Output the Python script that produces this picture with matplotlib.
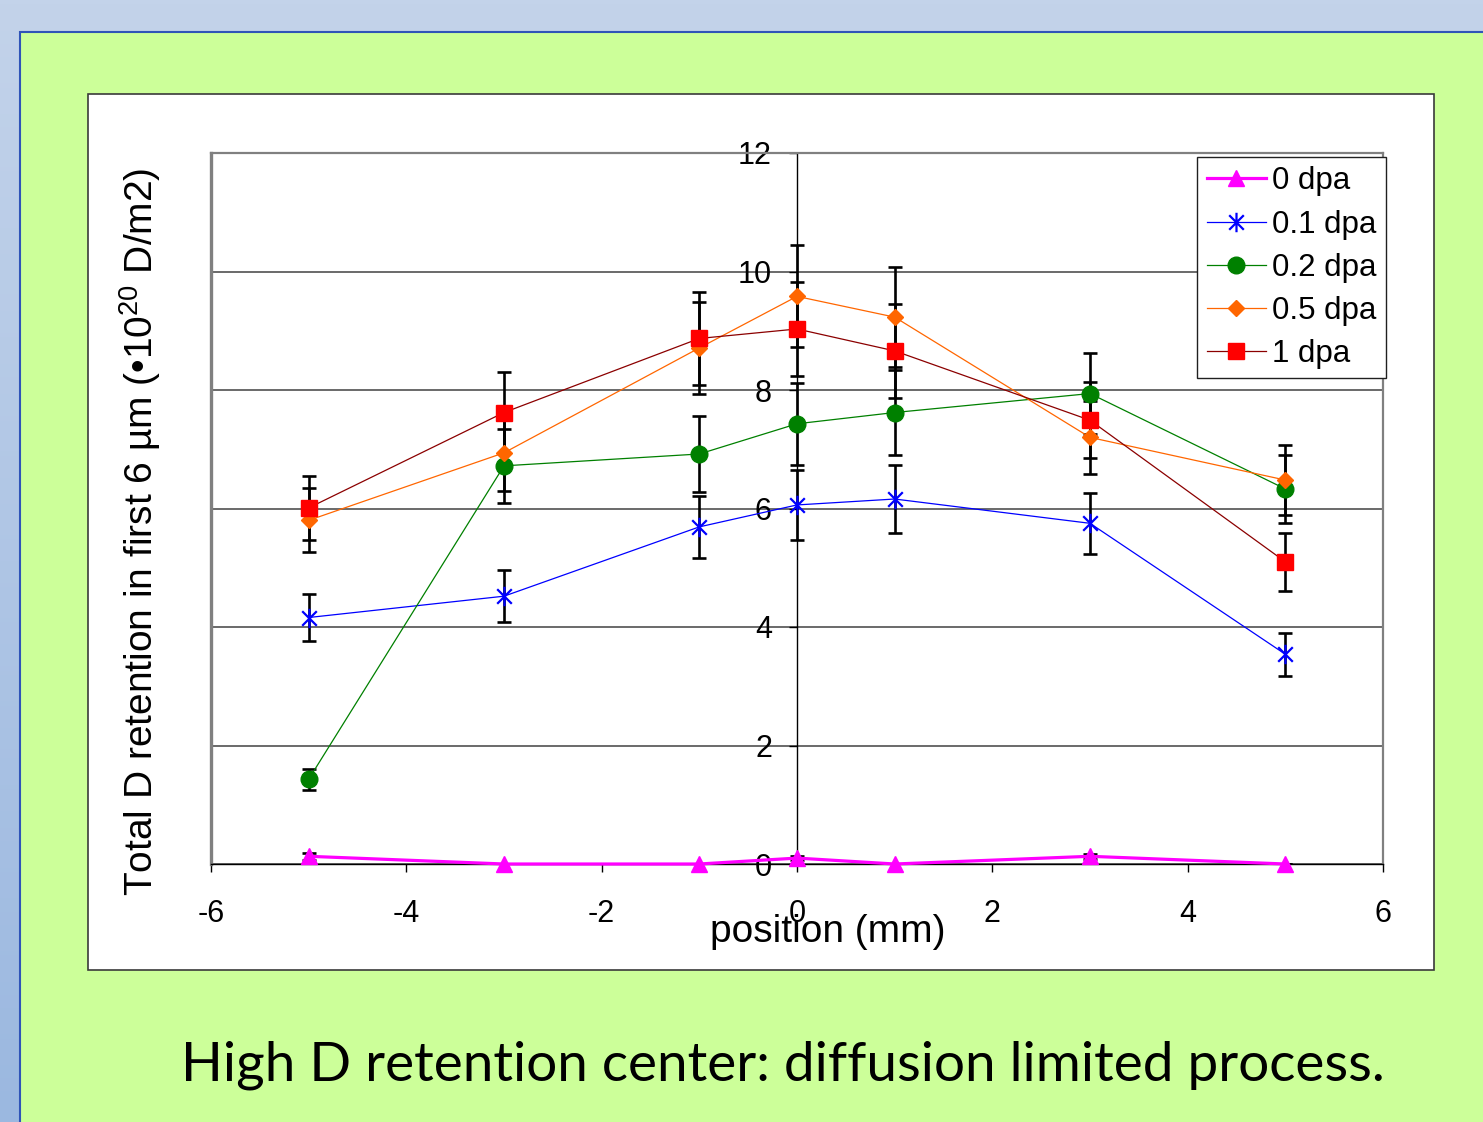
import numpy as np
import matplotlib
matplotlib.use("Agg")
import matplotlib.pyplot as plt
from matplotlib.path import Path
from matplotlib.patches import Rectangle
from matplotlib.colors import LinearSegmentedColormap

plt.rcParams['font.family'] = ['Liberation Sans', 'DejaVu Sans']
plt.rcParams['mathtext.fontset'] = 'custom'
plt.rcParams['mathtext.rm'] = 'Liberation Sans'

# ---- data ----
positions = [-5, -3, -1, 0, 1, 3, 5]
series_labels = ["0 dpa", "0.1 dpa", "0.2 dpa", "0.5 dpa", "1 dpa"]
d00 = [0.13, 0.0, 0.0, 0.10, 0.0, 0.13, 0.0]
d00_err = [0.06, 0.0, 0.0, 0.04, 0.0, 0.04, 0.0]
d01 = [4.16, 4.52, 5.69, 6.06, 6.16, 5.75, 3.54]
d01_err = [0.40, 0.44, 0.52, 0.59, 0.58, 0.52, 0.36]
d02 = [1.43, 6.72, 6.92, 7.43, 7.62, 7.94, 6.33]
d02_err = [0.18, 0.62, 0.64, 0.69, 0.71, 0.69, 0.58]
d05 = [5.80, 6.94, 8.71, 9.58, 9.23, 7.20, 6.48]
d05_err = [0.54, 0.64, 0.78, 0.86, 0.84, 0.62, 0.59]
d10 = [6.01, 7.62, 8.87, 9.03, 8.66, 7.49, 5.10]
d10_err = [0.54, 0.68, 0.79, 0.80, 0.79, 0.64, 0.49]
x_ticks = [-6, -4, -2, 0, 2, 4, 6]
y_ticks = [0, 2, 4, 6, 8, 10, 12]

W, H = 1483, 1122
fig = plt.figure(figsize=(W / 100, H / 100), dpi=100)

# background gradient (slide)
bg = fig.add_axes([0, 0, 1, 1])
bg.set_zorder(-10)
bg.set_axis_off()
grad = np.linspace(0, 1, 256).reshape(-1, 1)
cmap = LinearSegmentedColormap.from_list("bgc", ["#C3D3EA", "#9BB8E0"])
bg.imshow(grad, aspect='auto', cmap=cmap, extent=[0, 1, 0, 1], origin='upper')
bg.set_xlim(0, 1); bg.set_ylim(0, 1)

def fr(x0, y0, x1, y1):
    return (x0 / W, 1 - y1 / H, (x1 - x0) / W, (y1 - y0) / H)

gx, gy, gw, gh = fr(20, 32, W + 5, H + 5)
fig.patches.append(Rectangle((gx, gy), gw, gh, transform=fig.transFigure,
                             facecolor="#CCFF99", edgecolor="#2F54B8", lw=1.5, zorder=0))
cx, cy, cw, ch = fr(88, 94, 1434, 970)
fig.patches.append(Rectangle((cx, cy), cw, ch, transform=fig.transFigure,
                             facecolor="white", edgecolor="#3A3A3A", lw=1.2, zorder=1))

ax = fig.add_axes(fr(211, 153, 1383, 864))
ax.set_zorder(5)
ax.set_facecolor('none')
ax.set_xlim(-6, 6)
ax.set_ylim(0, 12)

for s in ['top', 'right']:
    ax.spines[s].set_color('#808080')
    ax.spines[s].set_linewidth(1.6)
ax.spines['left'].set_position(('data', 0))
ax.spines['left'].set_color('black')
ax.spines['left'].set_linewidth(1.0)
ax.spines['bottom'].set_color('black')
ax.spines['bottom'].set_linewidth(1.0)
ax.axvline(-6, color='#808080', lw=2.4, clip_on=False, zorder=1)

ax.set_yticks(y_ticks)
ax.set_xticks(x_ticks)
ax.set_yticklabels([str(v) for v in y_ticks])
ax.set_xticklabels([str(v) for v in x_ticks])
ax.tick_params(axis='y', direction='out', length=6, width=1, labelsize=22, pad=12)
ax.tick_params(axis='x', direction='out', length=6, width=1, labelsize=22, pad=19)
ax.yaxis.grid(True, color='#505050', lw=1.2)
ax.set_axisbelow(True)

# custom asterisk marker
star = Path([(0, -1), (0, 1), (-0.75, -0.75), (0.75, 0.75), (-0.75, 0.75), (0.75, -0.75)],
            [Path.MOVETO, Path.LINETO, Path.MOVETO, Path.LINETO, Path.MOVETO, Path.LINETO])

ekw = dict(fmt='none', ecolor='black', elinewidth=1.9, capsize=5, capthick=1.9, zorder=3)
ys = [d00, d01, d02, d05, d10]
es = [d00_err, d01_err, d02_err, d05_err, d10_err]
for y, e in zip(ys, es):
    ax.errorbar(positions, y, yerr=e, **ekw)

ax.plot(positions, d00, color='#FF00FF', lw=2.3, marker='^', ms=11, mfc='#FF00FF', mec='#FF00FF',
        label=series_labels[0], zorder=4, clip_on=False)
ax.plot(positions, d01, color='#0000FF', lw=0.9, marker=star, ms=14, mec='#0000FF', mew=1.6,
        label=series_labels[1], zorder=4)
ax.plot(positions, d02, color='#008000', lw=0.9, marker='o', ms=12, mfc='#008000', mec='#008000',
        label=series_labels[2], zorder=4)
ax.plot(positions, d05, color='#FF6600', lw=0.9, marker='D', ms=8, mfc='#FF6600', mec='#FF6600',
        label=series_labels[3], zorder=4)
ax.plot(positions, d10, color='#8B0000', lw=0.9, marker='s', ms=12, mfc='#FF0000', mec='#FF0000',
        label=series_labels[4], zorder=4)

leg = ax.legend(loc='upper right', bbox_to_anchor=(1386 / W, 1 - 157 / H),
                bbox_transform=fig.transFigure, fontsize=22.5, frameon=True, fancybox=False,
                edgecolor='#202020', framealpha=1, borderpad=0.3, labelspacing=0.42,
                handlelength=1.9, handletextpad=0.2, borderaxespad=0)
leg.get_frame().set_linewidth(1.0)

fig.text(828 / W, 1 - 932 / H, "position (mm)", ha='center', va='center', fontsize=28)
fig.text(140 / W, 1 - 532 / H, "Total D retention in first 6 µm (•10$^{20}$ D/m2)",
         ha='center', va='center', rotation=90, fontsize=28)

fig.text((181 + 1384) / 2 / W, 1 - 1080 / H, "High D retention center: diffusion limited process.",
         ha='center', va='baseline', fontsize=39.5, family=['Lato', 'DejaVu Sans'])

fig.savefig("out.png", dpi=100)
